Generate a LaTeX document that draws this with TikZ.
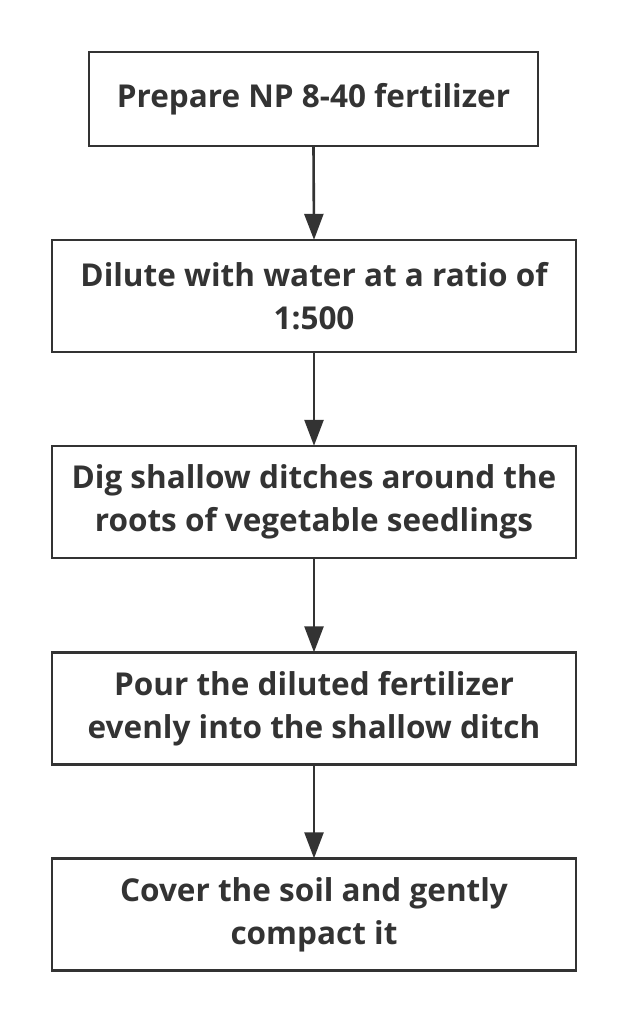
\documentclass[tikz,border=0pt]{standalone}
\usepackage{fontspec}
\setmainfont{Open Sans}
\usetikzlibrary{arrows.meta}
\definecolor{ink}{HTML}{333333}
\tikzset{
  stepbox/.style={draw=ink, line width=2.4pt, fill=white, align=center, text=ink,
    font=\fontsize{31.5}{43}\selectfont\bfseries, inner sep=0pt, minimum height=112pt, minimum width=524pt},
  flow/.style={draw=ink, line width=2.6pt, -{Triangle[length=26pt,width=19pt]}, shorten >=-1pt}
}
\begin{document}
\begin{tikzpicture}[x=1pt,y=-1pt]
\useasboundingbox (0,0) rectangle (628,1024);
\node[stepbox, minimum width=449pt, minimum height=94pt] (s1) at (313.5,99) {Prepare NP 8-40 fertilizer};
\node[stepbox] (s2) at (314,296) {Dilute with water at a ratio of\\1:500};
\node[stepbox] (s3) at (314,502) {Dig shallow ditches around the\\roots of vegetable seedlings};
\node[stepbox] (s4) at (314,708.5) {Pour the diluted fertilizer\\evenly into the shallow ditch};
\node[stepbox] (s5) at (314,914.5) {Cover the soil and gently\\compact it};
\draw[flow] (s1.south) -- (s2.north);
\draw[flow] (s2.south) -- (s3.north);
\draw[flow] (s3.south) -- (s4.north);
\draw[flow] (s4.south) -- (s5.north);
\end{tikzpicture}
\end{document}
